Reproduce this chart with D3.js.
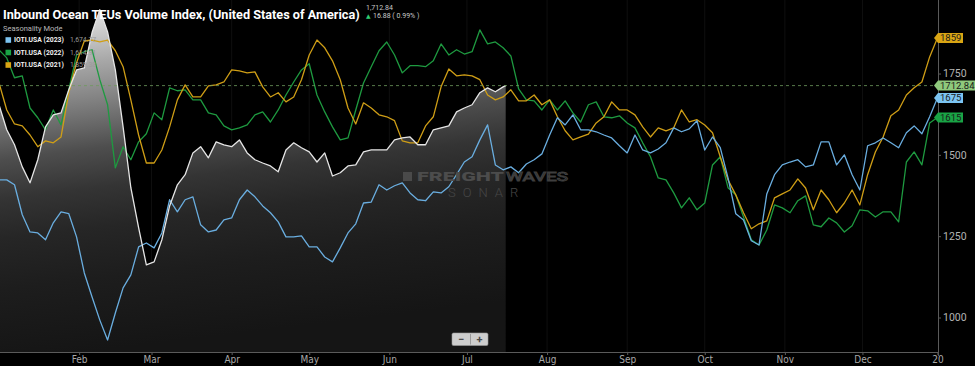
<!DOCTYPE html>
<html><head><meta charset="utf-8">
<script src="https://cdn.jsdelivr.net/npm/d3@7"></script>
<style>html,body{margin:0;padding:0;background:#000;overflow:hidden}svg{display:block}</style>
</head><body><svg id="c" width="975" height="366"></svg>
<script>
// ---------- DATA ----------
const dayOffsets = d3.range(0, 364, 3);          // days since Jan 1 (3-day sampling)
const currentLastDay = 196;                       // last day of the current-year series
const seriesNames = ["IOTI.USA (2023)", "IOTI.USA (2022)", "IOTI.USA (2021)"];
const legendValues = ["1,674.77", "1,614.91", "1,859.38"];
const tagLabels = ["1675", "1615", "1859"];
const currentValue = 1712.84;
const currentChange = "16.88 ( 0.99% )";
const monthTicks = ["Feb","Mar","Apr","May","Jun","Jul","Aug","Sep","Oct","Nov","Dec","20"];
const yTicks = [1000, 1250, 1500, 1750];

const current = [1654,1577,1531,1463,1414,1485,1586,1623,1629,1700,1761,1767,1876,1946,1878,1761,1586,1399,1276,1162,
  1171,1239,1343,1408,1439,1506,1525,1491,1540,1531,1525,1546,1506,1485,1475,1466,1448,1515,1537,1522,
  1509,1478,1506,1435,1445,1466,1469,1509,1515,1515,1515,1546,1552,1555,1531,1531,1577,1583,1589,1632,
  1644,1654,1691,1706,1694,1709,1712.84];

const y2023 = [1423,1423,1408,1316,1263,1260,1239,1291,1325,1319,1248,1137,1063,992,931,1014,1091,1131,1217,1229,
  1214,1260,1362,1325,1362,1371,1285,1263,1269,1300,1306,1362,1392,1371,1343,1322,1294,1248,1248,1251,
  1217,1217,1186,1171,1214,1260,1288,1352,1355,1408,1392,1405,1414,1383,1362,1359,1386,1383,1402,1439,
  1478,1494,1546,1592,1469,1454,1463,1445,1472,1485,1503,1561,1614,1592,1623,1577,1577,1571,1561,1552,
  1528,1506,1561,1515,1506,1518,1537,1583,1571,1580,1605,1515,1555,1522,1429,1319,1300,1236,1223,1380,
  1439,1469,1478,1485,1463,1469,1540,1540,1469,1500,1439,1392,1528,1537,1552,1537,1522,1568,1589,1565,
  1617,1674.77];

const y2022 = [1823,1798,1737,1743,1644,1614,1577,1638,1592,1700,1807,1817,1823,1731,1654,1460,1525,1485,1540,1565,
  1629,1608,1706,1697,1700,1669,1669,1629,1623,1589,1577,1583,1592,1623,1632,1601,1638,1684,1724,1761,
  1780,1684,1632,1586,1546,1552,1638,1721,1771,1820,1847,1807,1752,1774,1774,1771,1789,1841,1807,1823,
  1810,1817,1884,1841,1847,1829,1804,1703,1669,1666,1638,1669,1638,1666,1629,1601,1654,1663,1617,1614,
  1620,1598,1583,1537,1494,1429,1423,1383,1337,1368,1331,1352,1469,1494,1399,1377,1309,1239,1223,1269,
  1346,1337,1322,1359,1374,1285,1279,1306,1291,1263,1282,1331,1328,1309,1325,1325,1294,1478,1509,1469,
  1598,1614.91];

const y2021 = [1721,1638,1595,1589,1561,1525,1543,1537,1555,1691,1783,1850,1853,1847,1853,1820,1771,1669,1561,1475,
  1475,1515,1586,1669,1715,1678,1678,1712,1715,1724,1761,1758,1752,1755,1709,1678,1691,1663,1678,1731,
  1807,1853,1829,1789,1731,1644,1595,1660,1644,1623,1617,1605,1543,1537,1537,1589,1617,1709,1764,1743,
  1746,1743,1731,1684,1669,1678,1700,1666,1666,1684,1654,1669,1617,1574,1546,1555,1564,1598,1617,1663,
  1638,1638,1623,1586,1555,1583,1574,1583,1638,1601,1608,1592,1568,1494,1423,1377,1322,1273,1288,1297,
  1368,1380,1392,1426,1398,1331,1392,1362,1322,1352,1392,1346,1439,1509,1555,1620,1638,1684,1706,1724,
  1801,1859.38];

const colors = {cur:"#e6e6e6", c2023:"#6aaee0", c2022:"#1e9a40", c2021:"#cf9e16",
                tag2023:"#7cc4f2", tag2022:"#19a445", tag2021:"#d9a514", tagCur:"#8fc97c"};

// ---------- SCALES ----------
const svg = d3.select("#c");
const W = 975, H = 366, axisX = 938, axisY = 352;
const t0 = Date.UTC(2023,0,1);
const toDate = d => new Date(t0 + d*864e5);
const x = d3.scaleUtc().domain([toDate(0), toDate(364)]).range([-1, 940]);
const y = d3.scaleLinear().domain([894, 1976]).range([axisY, 0]);

const curDays = dayOffsets.filter(d => d < currentLastDay).concat([currentLastDay]);
const curData = curDays.map((d,i)=>({d:toDate(d), v:current[i]}));
const mk = arr => dayOffsets.map((d,i)=>({d:toDate(d), v:arr[i]}));

svg.append("rect").attr("width",W).attr("height",H).attr("fill","#000");

const defs = svg.append("defs");
const g = defs.append("linearGradient").attr("id","ga").attr("gradientUnits","userSpaceOnUse")
  .attr("x1",0).attr("x2",43).attr("y1",0).attr("y2",357);
[[0,"#f4f4f4"],[0.08,"#dcdcdc"],[0.2,"#a8a8a8"],[0.31,"#808080"],[0.44,"#4e4e4e"],[0.55,"#343434"],
 [0.66,"#262626"],[0.8,"#1d1d1d"],[1,"#151515"]]
  .forEach(([o,c])=>g.append("stop").attr("offset",o).attr("stop-color",c));
defs.append("clipPath").attr("id","cp").append("rect").attr("x",0).attr("y",0).attr("width",axisX).attr("height",axisY);

// month ticks
const tickDates = d3.utcMonth.range(Date.UTC(2023,1,1), Date.UTC(2023,11,2)).concat([toDate(363)]);

// faint grid
svg.append("g").selectAll("line").data(tickDates.slice(0,-1)).join("line")
  .attr("x1",d=>x(d)).attr("x2",d=>x(d)).attr("y1",0).attr("y2",axisY)
  .attr("stroke","#0f0f0f");

const plot = svg.append("g").attr("clip-path","url(#cp)");

plot.append("path").datum(curData)
  .attr("d", d3.area().x(p=>x(p.d)).y0(axisY).y1(p=>y(p.v)))
  .attr("fill","url(#ga)");

// watermark
const wm = svg.append("g").attr("font-family","Roboto, 'DejaVu Sans', sans-serif");
wm.append("rect").attr("x",403).attr("y",172).attr("width",9).attr("height",9).attr("fill","#4a4a4a");
wm.append("text").attr("x",417).attr("y",181).attr("font-size",12).attr("font-weight",900)
  .attr("fill","#4c4c4c").attr("textLength",87).attr("lengthAdjust","spacingAndGlyphs").text("FREIGHT");
wm.append("text").attr("x",506).attr("y",181).attr("font-size",12).attr("font-weight",400)
  .attr("fill","none").attr("stroke","#3e3e3e").attr("stroke-width",0.9)
  .attr("textLength",62).attr("lengthAdjust","spacingAndGlyphs").text("WAVES");
wm.append("text").attr("x",448).attr("y",197).attr("font-size",13).attr("font-weight",300)
  .attr("fill","#464646").attr("letter-spacing",7).text("SONAR");

// dashed current-value line
svg.append("line").attr("x1",0).attr("x2",axisX).attr("y1",y(currentValue)).attr("y2",y(currentValue))
  .attr("stroke","#6f9a5e").attr("stroke-width",0.8).attr("stroke-dasharray","3,3");

const line = d3.line().x(p=>x(p.d)).y(p=>y(p.v));
[[y2022,colors.c2022],[y2021,colors.c2021],[y2023,colors.c2023]].forEach(([arr,c])=>{
  plot.append("path").datum(mk(arr)).attr("d",line).attr("fill","none")
    .attr("stroke",c).attr("stroke-width",1.3).attr("stroke-linejoin","round");
});
plot.append("path").datum(curData).attr("d",line).attr("fill","none")
  .attr("stroke",colors.cur).attr("stroke-width",1.3).attr("stroke-linejoin","round");

// axes
const axisColor = "#5a5a5a";
svg.append("line").attr("x1",0).attr("x2",axisX).attr("y1",axisY+0.5).attr("y2",axisY+0.5).attr("stroke",axisColor);
svg.append("line").attr("x1",axisX+0.5).attr("x2",axisX+0.5).attr("y1",0).attr("y2",axisY+4).attr("stroke",axisColor);

const xa = svg.append("g").attr("transform",`translate(0,${axisY})`)
  .call(d3.axisBottom(x).tickValues(tickDates).tickSize(3).tickPadding(2)
    .tickFormat((d,i)=>monthTicks[i]));
xa.select(".domain").remove();
xa.selectAll("line").attr("stroke",axisColor);
xa.selectAll("text").attr("fill","#a8a8a8").attr("font-size",10)
  .attr("font-family","'DejaVu Sans Condensed', 'Roboto Condensed', Roboto, sans-serif")
  .attr("font-stretch","condensed").attr("dy","0.55em");

const ya = svg.append("g").attr("transform",`translate(${axisX},0)`)
  .call(d3.axisRight(y).tickValues(yTicks).tickSize(3).tickPadding(2).tickFormat(d3.format("d")));
ya.select(".domain").remove();
ya.selectAll("line").attr("stroke",axisColor);
ya.selectAll("text").attr("fill","#b4b4b4").attr("font-size",10.5).attr("font-family","Roboto, sans-serif");

// value tags on right
function tag(v, label, bg, w){
  const yc = y(v);
  svg.append("path").attr("d",`M${axisX-4},${yc} L${axisX},${yc-5} L${axisX+w},${yc-5} L${axisX+w},${yc+5} L${axisX},${yc+5} Z`)
    .attr("fill",bg);
  svg.append("text").attr("x",axisX+2).attr("y",yc+3.4).attr("font-size",9.5)
    .attr("font-family","Roboto, sans-serif").attr("fill","#1a1a1a").text(label);
}
tag(y2021[y2021.length-1], tagLabels[2], colors.tag2021, 25);
tag(currentValue, d3.format(".2f")(currentValue), colors.tagCur, 40);
tag(y2023[y2023.length-1], tagLabels[0], colors.tag2023, 25);
tag(y2022[y2022.length-1], tagLabels[1], colors.tag2022, 25);

// title
const title = svg.append("text").attr("x",3).attr("y",19).attr("font-size",14).attr("font-weight",700)
  .attr("font-family","Roboto, 'Open Sans', sans-serif").attr("fill","#fff")
  .text("Inbound Ocean TEUs Volume Index, (United States of America)");
const tl = title.node().getComputedTextLength();
title.attr("font-size", 14*357/tl);

svg.append("text").attr("x",366).attr("y",10).attr("font-size",7).attr("fill","#c8c8c8")
  .attr("font-family","Roboto, sans-serif").text(d3.format(",.2f")(currentValue));
svg.append("text").attr("x",366).attr("y",17.5).attr("font-size",6).attr("fill","#2ecc71")
  .attr("font-family","'DejaVu Sans', sans-serif").text("▲");
svg.append("text").attr("x",373).attr("y",17.5).attr("font-size",7).attr("fill","#c8c8c8")
  .attr("font-family","Roboto, sans-serif").text(currentChange);

// legend
svg.append("text").attr("x",3).attr("y",31).attr("font-size",7.5).attr("fill","#b8b8b8")
  .attr("font-family","Roboto, sans-serif").text("Seasonality Mode");
const legColors = [colors.tag2023, colors.tag2022, colors.tag2021];
seriesNames.forEach((n,i)=>{
  const yc = 40 + i*12.5;
  svg.append("rect").attr("x",5.5).attr("y",yc-2.8).attr("width",5.6).attr("height",5.6).attr("fill",legColors[i]);
  svg.append("text").attr("x",14).attr("y",yc+2.4).attr("font-size",6.8).attr("font-weight",700)
    .attr("font-family","Roboto, sans-serif").attr("fill","#f0f0f0").text(n);
  svg.append("text").attr("x",70).attr("y",yc+2.4).attr("font-size",6.8)
    .attr("font-family","Roboto, sans-serif").attr("fill","#9a9a9a").text(legendValues[i]);
});

// zoom buttons
const zb = svg.append("g");
zb.append("rect").attr("x",452).attr("y",333).attr("width",36).attr("height",12.5).attr("rx",1.5)
  .attr("fill","#cdcdcd").attr("stroke","#9a9a9a").attr("stroke-width",0.6);
zb.append("line").attr("x1",470.5).attr("x2",470.5).attr("y1",334).attr("y2",344.5).attr("stroke","#9a9a9a");
zb.append("text").attr("x",461).attr("y",342.8).attr("text-anchor","middle").attr("font-size",11).attr("font-weight",700)
  .attr("font-family","Roboto, sans-serif").attr("fill","#4a4a4a").text("−");
zb.append("text").attr("x",479.5).attr("y",343).attr("text-anchor","middle").attr("font-size",11).attr("font-weight",700)
  .attr("font-family","Roboto, sans-serif").attr("fill","#4a4a4a").text("+");
</script>
</body></html>
